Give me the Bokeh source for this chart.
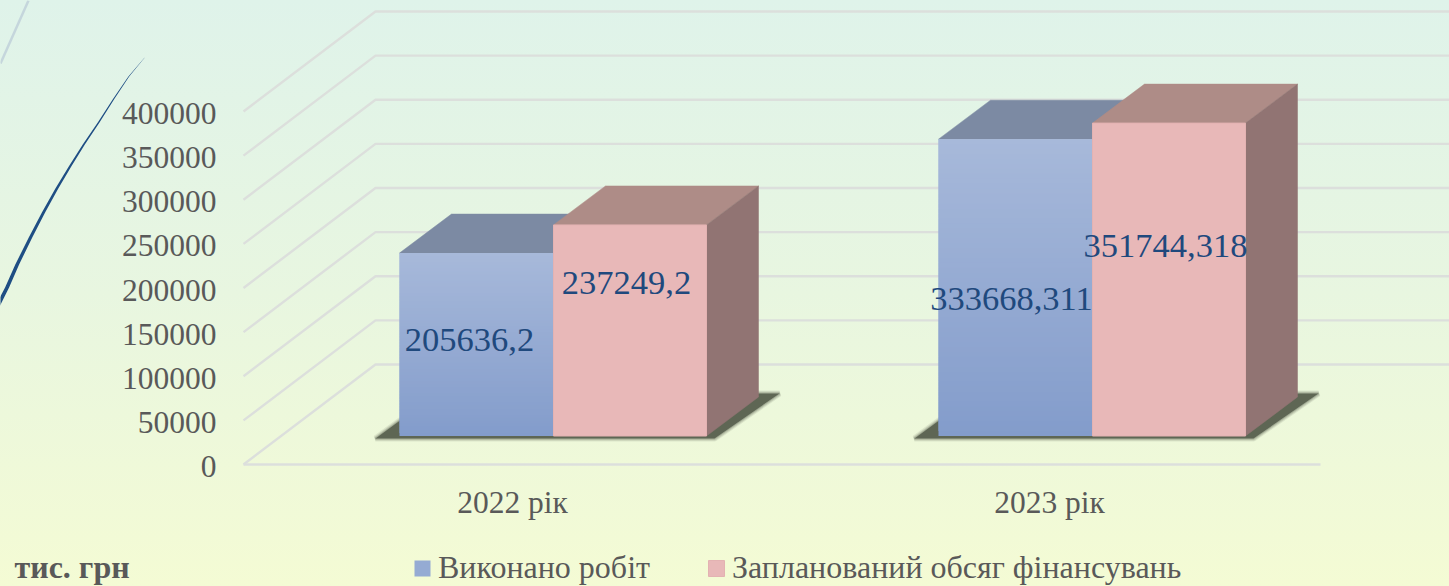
from bokeh.plotting import figure
from bokeh.models import (ColumnDataSource, Range1d, FixedTicker, Legend, LegendItem, Label,
                          LinearAxis, NumeralTickFormatter)
from bokeh.embed import file_html
from bokeh.resources import INLINE
from bokeh.core.properties import value

# ---- data ----
years = ["2022 рік", "2023 рік"]
done = [205636.2, 333668.311]
planned = [237249.2, 351744.318]
done_text = ["205636,2", "333668,311"]
planned_text = ["237249,2", "351744,318"]
y_ticks = [0, 50000, 100000, 150000, 200000, 250000, 300000, 350000, 400000]
series_names = ["Виконано робіт", "Запланований обсяг фінансувань"]
unit_text = "тис. грн"

# ---- layout (page pixels) ----
W, H = 1449, 586
AXIS_X, AXIS_Y_PX = 225, 478
Y0_PX, PX_PER_UNIT = 464.0, 353.0 / 400000
def uy(px):            # page pixel row -> value scale
    return (Y0_PX - px) / PX_PER_UNIT

BAR_W = 154
PINK_W = 153
BAR_LEFT = [399, 938]
BASE = uy(435.5)
BAR_SCALE = 1.008
DX, DY = 52, 39 / PX_PER_UNIT
TICK_X = [512, 1049]
DONE_LABEL = [(469, 339), (1011, 298)]
PLAN_LABEL = [(626, 282), (1165, 245)]
LABEL_SHIFT_PX = 2

GRID = "#dcdfdc"
TEXT = "#595959"
LABEL = "#1F497D"
SERIF = "Liberation Serif"

p = figure(width=W, height=H, output_backend="svg", toolbar_location=None,
           x_range=Range1d(0, W), y_range=Range1d(uy(H), uy(0)),
           min_border_left=0, min_border_right=0, min_border_top=0,
           min_border_bottom=0, outline_line_color=None,
           x_axis_type=None, y_axis_type=None)
p.extra_y_ranges = {"ticks": Range1d(uy(H - LABEL_SHIFT_PX), uy(-LABEL_SHIFT_PX))}
p.background_fill_alpha = 0
p.border_fill_alpha = 0
p.styles = {"position": "fixed", "left": "0", "top": "0",
            "background": "linear-gradient(180deg,#dff3ea 0%,#e8f6e0 50%,#f4fbd4 100%)"}
p.xgrid.visible = False
p.ygrid.visible = False

# axes, placed inside the full-page frame
yax = LinearAxis(ticker=FixedTicker(ticks=y_ticks), axis_line_color=None, y_range_name="ticks",
                 formatter=NumeralTickFormatter(format="0"),
                 major_tick_line_color=None, minor_tick_line_color=None,
                 major_label_text_font=SERIF, major_label_text_font_size="31.5px",
                 major_label_text_color=TEXT, major_label_standoff=3,
                 fixed_location=AXIS_X)
p.add_layout(yax, "left")
xax = LinearAxis(ticker=FixedTicker(ticks=TICK_X), axis_line_color=None,
                 major_tick_line_color=None, minor_tick_line_color=None,
                 major_label_text_font=SERIF, major_label_text_font_size="31.5px",
                 major_label_text_color=TEXT, major_label_standoff=0,
                 major_label_overrides=dict(zip(TICK_X, years)),
                 fixed_location=uy(AXIS_Y_PX))
p.add_layout(xax, "below")

# decorative curves
curve_x = [144, 128.3, 113.3, 98.3, 83.3, 69.5, 56.2, 43.0, 30, 16.7, 6.7, 0, -3]
curve_y = [57.3, 76, 98.3, 121.7, 144, 166, 188.3, 212, 237, 264, 286.7, 300, 306]
curve_w = [0.1, 0.4, 0.65, 0.85, 1.05, 1.25, 1.45, 1.6, 1.75, 1.9, 2.0, 2.1, 2.1]
ring_x = [a + b for a, b in zip(curve_x, curve_w)] + [a - b for a, b in zip(curve_x[::-1], curve_w[::-1])]
ring_y = [uy(v) for v in curve_y + curve_y[::-1]]
p.patch(ring_x, ring_y, fill_color="#1f4e84", line_color=None)
p.line([28, 0], [uy(0), uy(63)], line_color="#c5d6dc", line_width=2.5)

# 3-D grid
GL, GB, GF = 243, 375, 1449
GDY = 100 / PX_PER_UNIT
p.multi_line(xs=[[GL, GB, GF] for _ in y_ticks],
             ys=[[t, t + GDY, t + GDY] for t in y_ticks],
             line_color=GRID, line_width=2.4)
# front floor edge
p.line([GL, 1320], [0, 0], line_color=GRID, line_width=2.4)

# ground shadows, with a soft edge
for x0 in BAR_LEFT:
    xs = [x0 - 24, x0 + 6, x0 + 360, x0 + 380, x0 + 315]
    ys = [uy(438), uy(416), uy(393), uy(393), uy(438)]
    for w, a in [(6, 0.12), (4, 0.2), (2, 0.3)]:
        p.patch(xs, ys, fill_alpha=0, line_color="#5e6654", line_alpha=a, line_width=w)
    p.patch(xs, ys, fill_color="#5e6654", line_color=None)

def mix(a, b, t):
    return "#%02x%02x%02x" % tuple(round(a[i] + (b[i] - a[i]) * t) for i in range(3))

BLUE_TOP, BLUE_BOT = (167, 185, 218), (131, 156, 203)
N = 60
legend_refs = {}
for i in range(2):
    x0 = BAR_LEFT[i]
    x1, x2 = x0 + BAR_W, x0 + BAR_W + PINK_W
    d_top = BASE + done[i] * BAR_SCALE
    q_top = BASE + planned[i] * BAR_SCALE
    # blue top face
    p.patch([x0, x0 + DX, x1 + DX, x1], [d_top, d_top + DY, d_top + DY, d_top],
            fill_color="#7c8aa3", line_color="#7c8aa3", line_width=0.5)
    # blue front with gradient (strips overlap so that no seams show)
    step = done[i] * BAR_SCALE / N
    src = ColumnDataSource(dict(
        left=[x0] * N, right=[x1] * N,
        bottom=[BASE + k * step for k in range(N)],
        top=[BASE + min(k + 2, N) * step for k in range(N)],
        color=[mix(BLUE_BOT, BLUE_TOP, (k + 0.5) / N) for k in range(N)]))
    rb = p.quad(left="left", right="right", bottom="bottom", top="top", source=src,
                fill_color="color", line_color=None)
    # pink faces
    p.patch([x1, x1 + DX, x2 + DX, x2], [q_top, q_top + DY, q_top + DY, q_top],
            fill_color="#ae8c87", line_color="#ae8c87", line_width=0.5)
    p.patch([x2, x2 + DX, x2 + DX, x2], [BASE, BASE + DY, q_top + DY, q_top],
            fill_color="#917473", line_color="#917473", line_width=0.5)
    rp = p.quad(left=[x1], right=[x2], bottom=[BASE], top=[q_top],
                fill_color="#e8b8b8", line_color="#e3b2b2", line_width=1)
    legend_refs[i] = (rb, rp)

# value labels
lx = [c[0] for c in DONE_LABEL] + [c[0] for c in PLAN_LABEL]
ly = [uy(c[1]) for c in DONE_LABEL] + [uy(c[1]) for c in PLAN_LABEL]
p.text(x=lx, y=ly, text=done_text + planned_text, text_font=value(SERIF),
       text_font_size="34.5px", text_color=LABEL, text_align="center", text_baseline="middle")

# legend
legend = Legend(items=[LegendItem(label=series_names[0], renderers=[legend_refs[0][0]], index=N // 2),
                       LegendItem(label=series_names[1], renderers=[legend_refs[0][1]], index=0)],
                orientation="horizontal", location=(412, 0), background_fill_alpha=0,
                border_line_color=None, glyph_width=20, glyph_height=20, padding=0, margin=0,
                spacing=56, label_standoff=6, label_text_font=SERIF,
                label_text_font_size="32px", label_text_color=TEXT)
p.add_layout(legend, "center")

# unit caption
p.add_layout(Label(x=14, y=uy(584), text=unit_text, text_font=SERIF,
                   text_font_style="bold", text_font_size="32px", text_color=TEXT))

open("out.html", "w").write(file_html(p, INLINE))
